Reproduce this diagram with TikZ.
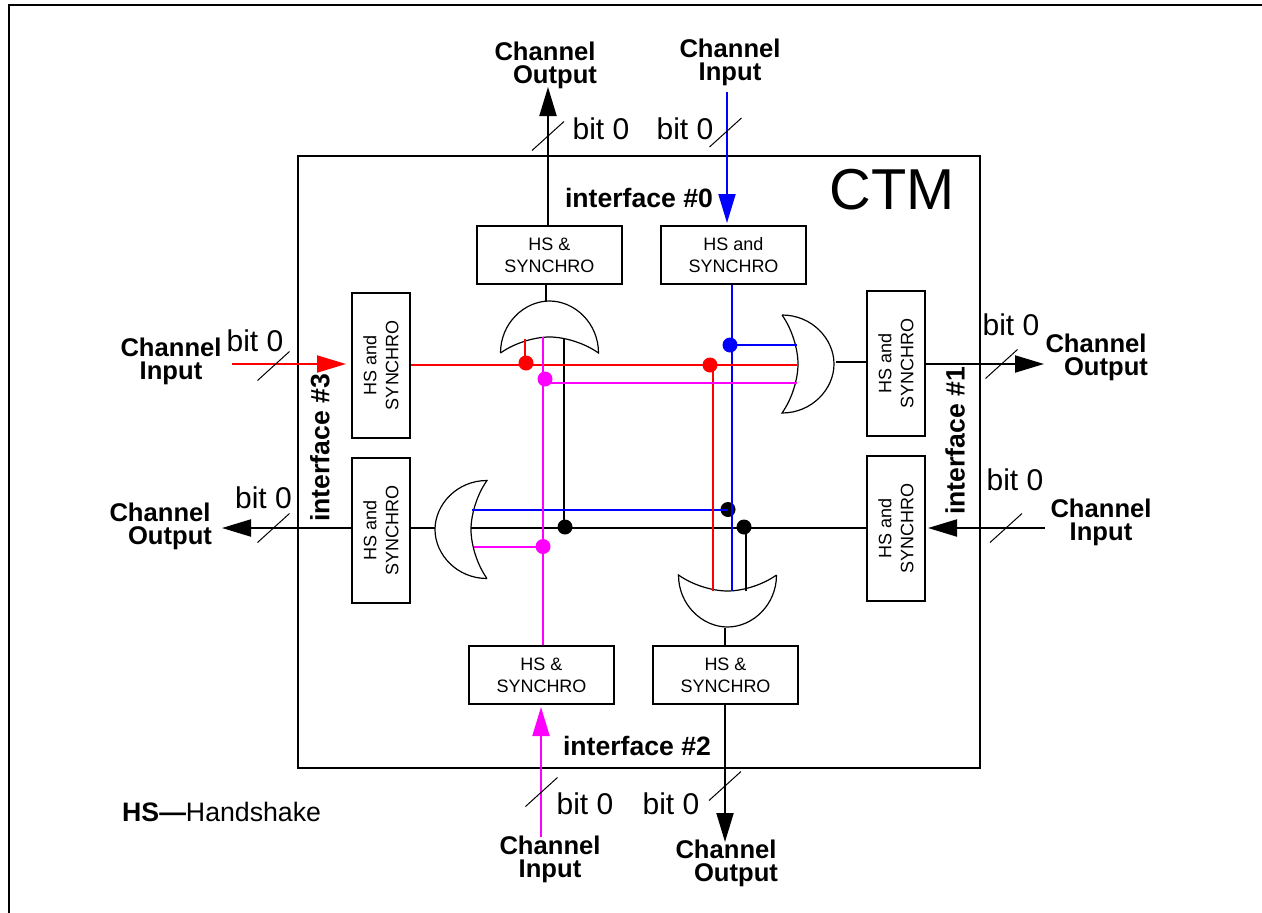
\documentclass[tikz,border=0pt]{standalone}
\usepackage{fontspec}
\setmainfont{Liberation Sans}
\usetikzlibrary{arrows.meta,calc}
\definecolor{hsmagenta}{RGB}{255,0,255}
\tikzset{
    wire/.style={line width=2pt},
    bigarrow/.style={-{Triangle[length=29pt,width=17pt]}},
    hsbox/.style={draw, line width=2pt, minimum width=145pt, minimum height=58pt, inner sep=0pt,
        align=center, font=\fontsize{18}{22}\selectfont},
    jdot/.style={circle, fill, inner sep=0pt, minimum size=15pt},
    chan/.style={align=center, inner sep=0pt, font=\fontsize{25.6}{23}\selectfont\bfseries},
    bitlabel/.style={inner sep=0pt, font=\fontsize{30}{30}\selectfont},
    iface/.style={inner sep=0pt, font=\fontsize{26.6}{28}\selectfont\bfseries},
    slash/.pic={\draw[line width=1pt] (-16,14.5) -- (16,-14.5);},
    orgate/.pic={\draw[line width=1.2pt] (0,-49) .. controls (30,-49) and (52,-25) .. (52,0)
        .. controls (52,25) and (30,49) .. (0,49)
        .. controls (10,35) and (16,15) .. (16,0)
        .. controls (16,-15) and (10,-35) .. (0,-49);}
}

\begin{document}
\begin{tikzpicture}[x=1pt, y=-1pt]
    \useasboundingbox (0,0) rectangle (1262,913);

    % Page frame
    \draw[line width=2.5pt] (9,913) -- (9,5) -- (1262,5);

    % CTM block
    \node[draw, line width=2pt, minimum width=682pt, minimum height=612pt, inner sep=0pt] (ctm) at (639,462) {};
    \node[inner sep=0pt, font=\fontsize{57.7}{60}\selectfont] (ctmlabel) at (892,190) {CTM};

    % Handshake blocks
    \node[hsbox] (hstl) at (549.5,255) {HS \&\\SYNCHRO};
    \node[hsbox] (hstr) at (733.5,255) {HS and\\SYNCHRO};
    \node[hsbox] (hsbl) at (541.5,675) {HS \&\\SYNCHRO};
    \node[hsbox] (hsbr) at (725.5,675) {HS \&\\SYNCHRO};
    \node[hsbox, rotate=90] (hswu) at (381,365) {HS and\\SYNCHRO};
    \node[hsbox, rotate=90] (hswl) at (381,530.5) {HS and\\SYNCHRO};
    \node[hsbox, rotate=90] (hseu) at (896,363.5) {HS and\\SYNCHRO};
    \node[hsbox, rotate=90] (hsel) at (896,528.5) {HS and\\SYNCHRO};

    % OR gates
    \pic[rotate=90] (gatetop) at (549.5,353) {orgate};
    \pic[rotate=0] (gateright) at (782,364) {orgate};
    \pic[rotate=-90] (gatebottom) at (727.5,575) {orgate};
    \pic[rotate=180] (gateleft) at (487,529.5) {orgate};

    % Wire ends at the gates
    \coordinate (gtout) at (546,302);
    \coordinate (gtred) at (525,339);
    \coordinate (gtmag) at (543,337);
    \coordinate (gtblk) at (564,339);
    \coordinate (grblue) at (797,345);
    \coordinate (grred) at (797,364.5);
    \coordinate (grmag) at (797,383);
    \coordinate (grout) at (836,362);
    \coordinate (gbred) at (713,591);
    \coordinate (gbblue) at (732,591);
    \coordinate (gbblk) at (746,591);
    \coordinate (gbout) at (725,628);
    \coordinate (glblue) at (472,509.5);
    \coordinate (glblk) at (471,528);
    \coordinate (glmag) at (474,546.5);
    \coordinate (glout) at (435,528);

    % Junction dots
    \node[jdot, red] (dotredl) at (526,363) {};
    \node[jdot, red] (dotredr) at (710,365) {};
    \node[jdot, blue] (dotblue) at (730,345) {};
    \node[jdot, hsmagenta] (dotmagu) at (545,379) {};
    \node[jdot, hsmagenta] (dotmagl) at (543,546.5) {};
    \node[jdot, black] (dotblkl) at (565,527) {};
    \node[jdot, black] (dotblkm) at (728,509.5) {};
    \node[jdot, black] (dotblkr) at (744,527) {};

    % Black wires
    \draw[wire] (gtout) -- (gtout |- hstl.south);
    \draw[wire] (gtblk) -- (gtblk |- dotblkl);
    \draw[wire] (grout) -- (grout -| hseu.north);
    \draw[wire] (glblk) -- (glblk -| hsel.north);
    \draw[wire] (glout) -- (glout -| hswl.south);
    \draw[wire] (gbblk) -- (gbblk |- dotblkr);
    \draw[wire] (gbout) -- (gbout |- hsbr.north);

    % Blue wires
    \draw[wire, blue] (gbblue) -- (gbblue |- hstr.south);
    \draw[wire, blue] (dotblue.center) -- (grblue);
    \draw[wire, blue] (glblue) -- (dotblkm.center);

    % Red wires
    \draw[wire, red] (hswu.south |- grred) -- (grred);
    \draw[wire, red] (gtred) -- (gtred |- dotredl);
    \draw[wire, red] (gbred) -- (gbred |- dotredr);

    % Magenta wires
    \draw[wire, hsmagenta] (gtmag) -- (gtmag |- hsbl.north);
    \draw[wire, hsmagenta] (dotmagu.center) -- (dotmagu.center |- grmag) -- (grmag);
    \draw[wire, hsmagenta] (glmag) -- (dotmagl.center);

    % Channel inputs and outputs
    \node[chan] (outtop) at (545,65.5) {Channel\\\hspace*{20pt}Output};
    \node[chan] (intop) at (730,62) {Channel\\Input};
    \node[chan] (outright) at (1096,357) {Channel\\\hspace*{20pt}Output};
    \node[chan] (inright) at (1101,522.5) {Channel\\Input};
    \node[chan] (inbottom) at (550,859.5) {Channel\\Input};
    \node[chan] (outbottom) at (726,863.5) {Channel\\\hspace*{20pt}Output};
    \node[chan] (inleft) at (171,361.5) {Channel\\Input};
    \node[chan] (outleft) at (160,526) {Channel\\\hspace*{20pt}Output};

    \coordinate (tipouttop) at (548,87);
    \coordinate (startintop) at (727,92);
    \coordinate (tipoutright) at (1044,364);
    \coordinate (startinright) at (1045,528);
    \coordinate (startinbottom) at (541,837);
    \coordinate (tipoutbottom) at (725,842);
    \coordinate (startinleft) at (232,364);
    \coordinate (tipoutleft) at (222,528);

    \draw[wire, bigarrow] (tipouttop |- hstl.north) -- (tipouttop);
    \draw[wire, bigarrow, blue] (startintop) -- ($(startintop |- hstr.north)+(0,-2)$);
    \draw[wire, bigarrow] (hseu.south |- tipoutright) -- (tipoutright);
    \draw[wire, bigarrow] (startinright) -- ($(hsel.south |- startinright)+(2,0)$);
    \draw[wire, bigarrow, hsmagenta] (startinbottom) -- ($(startinbottom |- hsbl.south)+(0,2)$);
    \draw[wire, bigarrow] (tipoutbottom |- hsbr.south) -- (tipoutbottom);
    \draw[wire, bigarrow, red] (startinleft) -- (346,364);
    \draw[wire, bigarrow] (hswl.north |- tipoutleft) -- (tipoutleft);

    % Bus slashes
    \pic (slashouttop) at (548,136) {slash};
    \pic (slashintop) at (725.5,132.5) {slash};
    \pic (slashoutright) at (1001.5,364) {slash};
    \pic (slashinright) at (1006,528) {slash};
    \pic (slashinbottom) at (541.5,792) {slash};
    \pic (slashoutbottom) at (725,786) {slash};
    \pic (slashinleft) at (273.5,366) {slash};
    \pic (slashoutleft) at (273.5,528) {slash};

    % Bit labels
    \node[bitlabel] (bitouttop) at (601,129) {bit 0};
    \node[bitlabel] (bitintop) at (685,129) {bit 0};
    \node[bitlabel] (bitoutright) at (1011,325) {bit 0};
    \node[bitlabel] (bitinright) at (1015,480) {bit 0};
    \node[bitlabel] (bitinbottom) at (585,804) {bit 0};
    \node[bitlabel] (bitoutbottom) at (671,804) {bit 0};
    \node[bitlabel] (bitinleft) at (255,341) {bit 0};
    \node[bitlabel] (bitoutleft) at (263.5,498) {bit 0};

    % Interface labels
    \node[iface] (ifzero) at (639,198) {interface \#0};
    \node[iface, rotate=90] (ifone) at (955,441) {interface \#1};
    \node[iface] (iftwo) at (637,746) {interface \#2};
    \node[iface, rotate=90] (ifthree) at (320,448) {interface \#3};

    % Legend
    \node[anchor=west, inner sep=0pt, font=\fontsize{26.7}{28}\selectfont] (legend) at (122,812) {\textbf{HS—}Handshake};
\end{tikzpicture}
\end{document}
